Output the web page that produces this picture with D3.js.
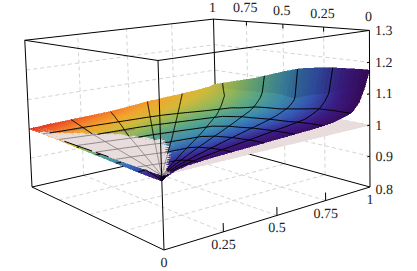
<!DOCTYPE html>
<html><head><meta charset="utf-8">
<style>html,body{margin:0;padding:0;background:#fff}svg{display:block}text{font-family:"Liberation Serif","Times New Roman",serif;font-size:14px;fill:#222;text-rendering:geometricPrecision}</style>
<script src="https://cdn.jsdelivr.net/npm/d3@7"></script></head><body>
<script>
const frontTicks=[0,0.25,0.5,0.75,1];
const frontLabels=["0","0.25","0.5","0.75","1"];
const topTicks=[0,0.25,0.5,0.75,1];
const topLabels=["0","0.25","0.5","0.75","1"];
const zTicks=[0.8,0.9,1,1.1,1.2,1.3];
const zLabels=["0.8","0.9","1","1.1","1.2","1.3"];
const planeLevel=1;
const gridU=[0,.02,.05,.1,.2,.3,.4,.5,.6,.7,.8,.85,.9,.94,.97,1];
const gridV=[0,.02,.05,.1,.2,.3,.4,.5,.6,.7,.8,.9,1];
const heights=[
[.985,.993,1.002,1.010,1.015,1.018,1.021,1.024,1.027,1.030,1.036,1.044,1.053,1.080,1.120,1.175],
[.985,.998,1.002,1.008,1.014,1.017,1.020,1.023,1.026,1.029,1.035,1.043,1.053,1.080,1.120,1.175],
[.985,.992,1.001,1.006,1.012,1.016,1.019,1.022,1.025,1.028,1.034,1.042,1.052,1.079,1.118,1.174],
[.985,.988,.992,1.001,1.009,1.013,1.016,1.019,1.022,1.025,1.031,1.040,1.050,1.076,1.110,1.172],
[.987,.988,.990,.994,1.003,1.008,1.012,1.015,1.018,1.020,1.023,1.032,1.044,1.062,1.085,1.168],
[.989,.989,.990,.992,.998,1.003,1.007,1.010,1.013,1.016,1.020,1.026,1.034,1.050,1.070,1.160],
[.991,.991,.992,.993,.997,1.001,1.004,1.007,1.010,1.013,1.017,1.021,1.025,1.035,1.048,1.150],
[.993,.993,.994,.995,.998,1.002,1.005,1.007,1.010,1.012,1.014,1.019,1.027,1.038,1.055,1.132],
[.995,.995,.995,.996,.999,1.004,1.007,1.009,1.011,1.011,1.012,1.016,1.027,1.036,1.052,1.112],
[.997,.997,.997,.998,1.002,1.006,1.009,1.012,1.013,1.013,1.015,1.018,1.027,1.034,1.046,1.092],
[.999,.999,.999,1.001,1.004,1.007,1.010,1.014,1.017,1.020,1.024,1.026,1.028,1.033,1.042,1.076],
[1.000,1.000,1.001,1.002,1.005,1.008,1.011,1.015,1.019,1.023,1.027,1.029,1.031,1.035,1.040,1.060],
[1.000,1.001,1.002,1.004,1.006,1.008,1.010,1.016,1.022,1.026,1.029,1.031,1.033,1.036,1.038,1.044]];
const colorU=[0,.25,.5,.75,1];
const colorV=[0,.1,.2,.4,.6,.8,1];
const colorValues=[
[.02,.02,.02,.01,0],
[.10,.09,.08,.07,.06],
[.20,.18,.16,.14,.12],
[.40,.36,.32,.28,.25],
[.60,.54,.48,.43,.40],
[.80,.72,.65,.58,.50],
[1,.90,.80,.70,.60]];
const paletteStops=[0,.08,.18,.30,.42,.52,.62,.72,.82,.92,1];
const paletteColors=["#3a0a5e","#3c1f8a","#3558b5","#3d8bb0","#5aa888","#93b85a","#d3b93a","#efa92f","#f4832b","#eb5426","#dc2a22"];
const rayPaths=[
[[0,0],[.2,1]],[[0,0],[.4,1]],[[0,0],[.6,1]],[[0,0],[.8,1]],
[[0,0],[.39,.325],[.667,.564],[.9,.8],[1,.94]],
[[0,0],[1,.63]],[[0,0],[1,.41]],[[0,0],[1,.2]]];
const arcShape=[[0,.87],[.22,.82],[.436,.76],[.804,.63],[.857,.54],[.89,.365],[.9,.18],[.89,0]];
const arcFactors=[1,.833,.667,.5,.333,.167];
const stripMarks=[[.46,.68],[.34,.43]];
const W=417,H=271;
const uS=d3.scaleLinear().domain([0,1]).range([0,1]);
const vS=d3.scaleLinear().domain([0,1]).range([0,1]);
const zS=d3.scaleLinear().domain([.8,1.3]).range([0,1]);
const A=[164,250,1],B=[370,187,1],C=[32,187,1],T=[158,60.5,1];
const aW=1.215,bW=1.295,cW=.975;
const Eu=B.map((d,i)=>aW*d-A[i]),Ev=C.map((d,i)=>bW*d-A[i]),Ew=T.map((d,i)=>cW*d-A[i]);
function raw(a,b,c){const p=[0,1,2].map(i=>A[i]+a*Eu[i]+b*Ev[i]+c*Ew[i]);return [p[0]/p[2],p[1]/p[2]];}
function proj(u,v,z){return raw(uS(u),vS(v),zS(z));}
function det3(m){return m[0][0]*(m[1][1]*m[2][2]-m[1][2]*m[2][1])-m[0][1]*(m[1][0]*m[2][2]-m[1][2]*m[2][0])+m[0][2]*(m[1][0]*m[2][1]-m[1][1]*m[2][0]);}
const Mx=[0,1,2].map(i=>[Eu[i],Ev[i],Ew[i]]);const D=det3(Mx);
const cam=[0,1,2].map(k=>det3(Mx.map((r,i)=>{const q=r.slice();q[k]=-A[i];return q;}))/D);
const lerpTable=(xs,ys,tab,x,y)=>{
 let i=Math.min(xs.length-2,Math.max(0,d3.bisectRight(xs,x)-1)),j=Math.min(ys.length-2,Math.max(0,d3.bisectRight(ys,y)-1));
 const a=(x-xs[i])/(xs[i+1]-xs[i]),b=(y-ys[j])/(ys[j+1]-ys[j]);
 return (1-b)*((1-a)*tab[j][i]+a*tab[j][i+1])+b*((1-a)*tab[j+1][i]+a*tab[j+1][i+1]);};
const zAt=(u,v)=>lerpTable(gridU,gridV,heights,u,v);
const tAt=(u,v)=>lerpTable(colorU,colorV,colorValues,u,v);
const colorScale=d3.scaleLinear().domain(paletteStops).range(paletteColors).interpolate(d3.interpolateRgb);
const refine=(xs,step)=>{const o=[];xs.forEach((x,i)=>{if(i==xs.length-1){o.push(x);return;}const n=Math.ceil((xs[i+1]-x)/step);for(let k=0;k<n;k++)o.push(x+(xs[i+1]-x)*k/n);});return o;};
const rU=refine(gridU,.02),rV=refine(gridV,.025);
const svg=d3.select("body").append("svg").attr("width",W).attr("height",H);
const line=d3.line();
const gridG=svg.append("g").attr("fill","none").attr("stroke","#d4d4d4").attr("stroke-width",1).attr("stroke-dasharray","4,3");
const seg=(g,a,b)=>g.append("path").attr("d",line([proj(...a),proj(...b)]));
[.25,.5,.75].forEach(t=>{
 seg(gridG,[t,1,.8],[t,1,1.3]);seg(gridG,[1,t,.8],[1,t,1.3]);
 seg(gridG,[t,0,.8],[t,1,.8]);seg(gridG,[0,t,.8],[1,t,.8]);});
[.9,1,1.1,1.2].forEach(z=>{seg(gridG,[0,1,z],[1,1,z]);seg(gridG,[1,1,z],[1,0,z]);});
const boxG=svg.append("g").attr("fill","none").attr("stroke","#000").attr("stroke-width",1);
[[[0,1,.8],[1,1,.8]],[[1,0,.8],[1,1,.8]],[[1,1,.8],[1,1,1.3]]].forEach(p=>seg(boxG,p[0],p[1]));
const quads=[];
for(let i=0;i<rU.length-1;i++)for(let j=0;j<rV.length-1;j++){
 const u0=rU[i],u1=rU[i+1],v0=rV[j],v1=rV[j+1];
 const z00=zAt(u0,v0),z10=zAt(u1,v0),z01=zAt(u0,v1),z11=zAt(u1,v1);
 const mz=(z00+z10+z01+z11)/4,um=(u0+u1)/2,vm=(v0+v1)/2;
 const slope=Math.abs((z10+z11-z00-z01)/2/(u1-u0));
 const col=d3.rgb(colorScale(tAt(um,vm))).darker(Math.min(.6,slope*.16)).formatHex();
 const sq=[proj(u0,v0,z00),proj(u1,v0,z10),proj(u1,v1,z11),proj(u0,v1,z01)];
 const pq=[proj(u0,v0,planeLevel),proj(u1,v0,planeLevel),proj(u1,v1,planeLevel),proj(u0,v1,planeLevel)];
 const base=-(i+j)*10;
 quads.push({k:base+(mz<planeLevel?0:2),pts:sq,c:col});
 quads.push({k:base+(mz<planeLevel?2:0),pts:pq,c:"#e8dcdc"});
}
quads.sort((a,b)=>a.k-b.k);
svg.append("g").attr("shape-rendering","crispEdges").selectAll("path").data(quads).join("path")
 .attr("d",d=>line(d.pts)+"Z").attr("fill",d=>d.c).attr("stroke",d=>d.c).attr("stroke-width",.6);
function hidden(u,v,z,onPlane){
 const w=zS(z),du=cam[0]-u,dv=cam[1]-v,dw=cam[2]-w;
 const tMax=Math.min(du<0?-u/du:1,dv<0?-v/dv:1,1);
 const n=30;
 for(let s=1;s<=n;s++){const t=tMax*s/n;
  const qu=u+du*t,qv=v+dv*t,qz=zS.invert(w+dw*t);
  if(qu<0||qv<0)break;
  if(qz<zAt(qu,qv)-.0012)return true;
  if(!onPlane&&z<planeLevel-.0002&&qz>planeLevel)return true;
 }
 return false;}
const dense=(pts)=>{const o=[];for(let i=0;i<pts.length-1;i++){const a=pts[i],b=pts[i+1],n=Math.max(3,Math.ceil(Math.hypot(b[0]-a[0],b[1]-a[1])/.01));for(let k=0;k<n;k++)o.push([a[0]+(b[0]-a[0])*k/n,a[1]+(b[1]-a[1])*k/n]);}o.push(pts[pts.length-1]);return o;};
const meshPaths=rayPaths.concat(arcFactors.map(f=>arcShape.map(p=>[p[0]*f,p[1]*f])));
const grayG=svg.append("g").attr("fill","none").attr("stroke","#7d7878").attr("stroke-width",.85);
const blackG=svg.append("g").attr("fill","none").attr("stroke","#000").attr("stroke-width",1);
function drawRuns(g,pts,fz,onPlane){let run=[];const flush=()=>{if(run.length>1)g.append("path").attr("d",line(run));run=[];};
 pts.forEach(p=>{const z=fz(p[0],p[1]);if(hidden(p[0],p[1],z,onPlane))flush();else run.push(proj(p[0],p[1],z));});flush();}
meshPaths.forEach(m=>{const pts=dense(m);
 drawRuns(grayG,pts,()=>planeLevel,true);
 drawRuns(blackG,pts,zAt,false);});
stripMarks.forEach(r=>blackG.append("path").attr("d",line([proj(0,r[0],planeLevel),proj(0,r[1],planeLevel)])));
[[[0,0,.8],[1,0,.8]],[[0,0,.8],[0,1,.8]],[[0,0,.8],[0,0,1.3]],[[1,0,.8],[1,0,1.3]],[[0,1,.8],[0,1,1.3]],[[0,0,1.3],[1,0,1.3]],[[0,0,1.3],[0,1,1.3]],[[0,1,1.3],[1,1,1.3]],[[1,1,1.3],[1,0,1.3]]]
 .forEach(p=>seg(svg.append("g").attr("fill","none").attr("stroke","#000").attr("stroke-width",1),p[0],p[1]));
const tickG=svg.append("g").attr("fill","none").attr("stroke","#000").attr("stroke-width",1);
frontTicks.slice(1,4).forEach(t=>seg(tickG,[t,0,.8],[t,0,.825]));
topTicks.slice(1,4).forEach(t=>seg(tickG,[1,t,1.3],[1,t,1.285]));
zTicks.slice(1,5).forEach(z=>seg(tickG,[1,0,z],[.985,0,z]));
const lab=svg.append("g");
frontTicks.forEach((t,i)=>{const p=proj(t,0,.8);lab.append("text").attr("x",p[0]).attr("y",p[1]+17).attr("text-anchor","middle").text(frontLabels[i]);});
topTicks.forEach((t,i)=>{const p=proj(1,t,1.3);lab.append("text").attr("x",p[0]-1).attr("y",p[1]-(t==1?7:9)).attr("text-anchor","middle").text(topLabels[i]);});
zTicks.forEach((z,i)=>{const p=proj(1,0,z);lab.append("text").attr("x",p[0]+5.5).attr("y",p[1]+(z<.85?7:4.5)).text(zLabels[i]);});
</script></body></html>
